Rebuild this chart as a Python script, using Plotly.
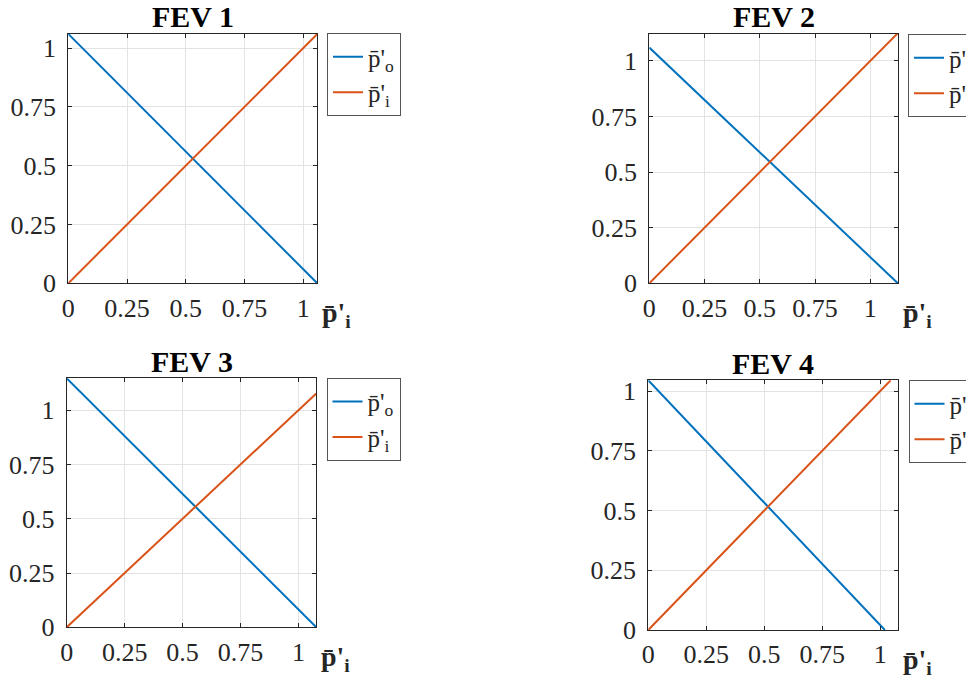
import plotly.graph_objects as go

# ---------------- data ----------------
fev_titles = ["FEV 1", "FEV 2", "FEV 3", "FEV 4"]

# series p̄'_o (blue) per subplot
po_x = [[0, 1.06], [0, 1.125], [0, 1.077], [0, 1.02]]
po_y = [[1.06, 0], [1.06, 0], [1.147, 0], [1.045, 0]]

# series p̄'_i (orange) per subplot
pi_x = [[0, 1.06], [0, 1.125], [0, 1.077], [0, 1.045]]
pi_y = [[0, 1.06], [0, 1.125], [0, 1.077], [0, 1.045]]

x_max = [1.06, 1.127, 1.077, 1.078]
y_max = [1.06, 1.121, 1.147, 1.045]

tick_vals = [0, 0.25, 0.5, 0.75, 1]
tick_text = ["0", "0.25", "0.5", "0.75", "1"]

series_names = ["p\u0304'<sub>o</sub>", "p\u0304'<sub>i</sub>"]
axis_label = "<b>p\u0304'<sub>i</sub></b>"

# ---------------- layout geometry (screen pixels) ----------------
OFF = 8  # page body margin offset
W, H = 974 - OFF, 680 - OFF
# plot boxes on screen: (left, right, top, bottom)
boxes = [
    (68.3, 317.3, 34.0, 283.3),
    (649.3, 898.3, 34.0, 283.3),
    (66.7, 316.3, 378.3, 627.3),
    (648.3, 898.3, 380.3, 630.0),
]
legend_pos = [(327, 33), (908, 34), (326.5, 377.7), (908.5, 380)]

BLUE = "#0072BD"
ORANGE = "#D95319"
AX = "#262626"
FONT = "Liberation Serif"


def px(x):
    return (x - OFF) / W


def py(y):
    return 1 - (y - OFF) / H


fig = go.Figure()
layout = dict(
    width=W, height=H,
    margin=dict(l=0, r=0, t=0, b=0, autoexpand=False),
    paper_bgcolor="white", plot_bgcolor="white",
    font=dict(family=FONT, size=26, color=AX),
    annotations=[],
)

for k in range(4):
    xa = "x" if k == 0 else f"x{k+1}"
    ya = "y" if k == 0 else f"y{k+1}"
    lg = "legend" if k == 0 else f"legend{k+1}"
    fig.add_trace(go.Scatter(x=po_x[k], y=po_y[k], mode="lines", name=series_names[0],
                             line=dict(color=BLUE, width=2), xaxis=xa, yaxis=ya, legend=lg))
    fig.add_trace(go.Scatter(x=pi_x[k], y=pi_y[k], mode="lines", name=series_names[1],
                             line=dict(color=ORANGE, width=2), xaxis=xa, yaxis=ya, legend=lg))
    l, r, t, b = boxes[k]
    axis_common = dict(
        showline=True, linecolor=AX, linewidth=1, mirror="ticks",
        ticks="inside", ticklen=4, tickcolor=AX,
        showgrid=True, gridcolor="#e3e3e3", gridwidth=1,
        zeroline=False, tickvals=tick_vals, ticktext=tick_text,
        tickfont=dict(family=FONT, size=26, color=AX),
    )
    xkey = "xaxis" if k == 0 else f"xaxis{k+1}"
    ykey = "yaxis" if k == 0 else f"yaxis{k+1}"
    layout[xkey] = dict(axis_common, domain=[px(l), px(r)], range=[0, x_max[k]],
                        anchor=ya, ticklabelstandoff=1)
    layout[ykey] = dict(axis_common, domain=[py(b), py(t)], range=[0, y_max[k]],
                        anchor=xa, ticklabelstandoff=6)
    lx, ly = legend_pos[k]
    layout[lg] = dict(x=px(lx), y=py(ly), xanchor="left", yanchor="top",
                      bgcolor="white", bordercolor="#555555", borderwidth=1,
                      font=dict(family=FONT, size=25, color=AX),
                      tracegroupgap=0, itemwidth=30)
    # title
    layout["annotations"].append(dict(
        text=f"<b>{fev_titles[k]}</b>", x=px((l + r) / 2), y=py(t - 17),
        xref="paper", yref="paper", xanchor="center", yanchor="middle",
        showarrow=False, font=dict(family=FONT, size=30, color="black")))
    # x-axis label at right end
    layout["annotations"].append(dict(
        text=axis_label, x=px(r + 3), y=py(b + 31),
        xref="paper", yref="paper", xanchor="left", yanchor="middle",
        showarrow=False, font=dict(family=FONT, size=28, color=AX)))

fig.update_layout(**layout)
fig.write_html("out.html")
